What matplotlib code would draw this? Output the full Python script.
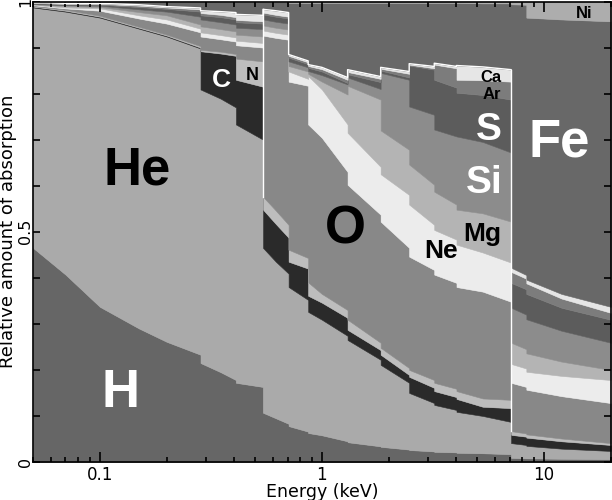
import numpy as np
import matplotlib.pyplot as plt
from matplotlib.ticker import MultipleLocator, LogLocator, NullFormatter

### DATA (cumulative fraction of absorption)
# energies in keV, edges appear twice (value below / above the edge)
energy = [0.05, 0.07, 0.1, 0.15, 0.2, 0.284, 0.284, 0.35, 0.41, 0.41,
          0.543, 0.543, 0.62, 0.708, 0.708, 0.867, 0.867, 1.0, 1.305, 1.305,
          1.839, 1.839, 2.472, 2.472, 3.206, 3.206, 4.038, 4.038, 5.3, 7.112,
          7.112, 8.333, 8.333, 12.0, 20.0]

top_H = [0.465, 0.407, 0.337, 0.29, 0.261, 0.233, 0.215, 0.195, 0.178, 0.172,
         0.163, 0.107, 0.095, 0.083, 0.078, 0.066, 0.063, 0.058, 0.045, 0.043,
         0.034, 0.033, 0.027, 0.026, 0.023, 0.022, 0.021, 0.020, 0.019, 0.017,
         0.009, 0.008, 0.008, 0.007, 0.006]
top_He = [0.987, 0.978, 0.965, 0.941, 0.924, 0.898, 0.809, 0.789, 0.77, 0.733,
          0.70, 0.465, 0.435, 0.409, 0.38, 0.352, 0.326, 0.309, 0.274, 0.265,
          0.222, 0.211, 0.172, 0.15, 0.128, 0.124, 0.113, 0.109, 0.10, 0.087,
          0.041, 0.037, 0.035, 0.029, 0.024]
top_C = [0.989, 0.980, 0.967, 0.943, 0.926, 0.900, 0.892, 0.887, 0.882, 0.83,
         0.815, 0.548, 0.517, 0.487, 0.435, 0.42, 0.361, 0.346, 0.313, 0.287,
         0.243, 0.233, 0.189, 0.185, 0.161, 0.154, 0.141, 0.137, 0.12, 0.117,
         0.059, 0.055, 0.053, 0.045, 0.037]
top_N = [0.990, 0.982, 0.969, 0.945, 0.928, 0.903, 0.895, 0.891, 0.886, 0.876,
         0.87, 0.576, 0.546, 0.515, 0.461, 0.443, 0.39, 0.365, 0.33, 0.309,
         0.259, 0.248, 0.204, 0.20, 0.178, 0.172, 0.159, 0.154, 0.138, 0.135,
         0.067, 0.062, 0.06, 0.051, 0.041]
top_O = [0.992, 0.985, 0.98, 0.963, 0.952, 0.933, 0.924, 0.918, 0.913, 0.905,
         0.90, 0.926, 0.921, 0.917, 0.826, 0.817, 0.733, 0.704, 0.63, 0.602,
         0.537, 0.522, 0.465, 0.446, 0.417, 0.407, 0.389, 0.38, 0.37, 0.348,
         0.172, 0.163, 0.157, 0.143, 0.128]
top_Ne = [0.993, 0.987, 0.985, 0.97, 0.961, 0.941, 0.933, 0.927, 0.922, 0.915,
          0.91, 0.937, 0.932, 0.928, 0.848, 0.832, 0.838, 0.809, 0.733, 0.715,
          0.641, 0.625, 0.58, 0.559, 0.515, 0.504, 0.483, 0.472, 0.455, 0.433,
          0.213, 0.203, 0.196, 0.187, 0.178]
top_Mg = [0.994, 0.99, 0.988, 0.977, 0.97, 0.95, 0.946, 0.94, 0.935, 0.928,
          0.924, 0.948, 0.943, 0.939, 0.86, 0.848, 0.843, 0.826, 0.798, 0.817,
          0.787, 0.72, 0.678, 0.646, 0.602, 0.587, 0.559, 0.548, 0.54, 0.522,
          0.259, 0.245, 0.236, 0.218, 0.20]
top_Si = [0.995, 0.992, 0.991, 0.983, 0.978, 0.967, 0.961, 0.955, 0.95, 0.943,
          0.94, 0.961, 0.956, 0.952, 0.87, 0.857, 0.849, 0.84, 0.82, 0.835,
          0.81, 0.845, 0.83, 0.772, 0.754, 0.722, 0.707, 0.707, 0.695, 0.672,
          0.335, 0.32, 0.31, 0.285, 0.259]
top_S = [0.996, 0.994, 0.993, 0.988, 0.984, 0.978, 0.97, 0.966, 0.961, 0.955,
         0.952, 0.972, 0.967, 0.963, 0.878, 0.864, 0.856, 0.848, 0.823, 0.842,
         0.825, 0.85, 0.835, 0.861, 0.852, 0.83, 0.813, 0.802, 0.797, 0.787,
         0.389, 0.375, 0.365, 0.335, 0.309]
top_Ar = [0.997, 0.995, 0.995, 0.991, 0.987, 0.983, 0.975, 0.971, 0.966, 0.96,
          0.957, 0.976, 0.971, 0.967, 0.882, 0.868, 0.86, 0.853, 0.83, 0.847,
          0.832, 0.854, 0.843, 0.863, 0.855, 0.863, 0.855, 0.83, 0.829, 0.826,
          0.413, 0.398, 0.388, 0.355, 0.324]
top_Ca = [0.998, 0.996, 0.996, 0.993, 0.989, 0.986, 0.98, 0.978, 0.976, 0.972,
          0.97, 0.983, 0.98, 0.976, 0.885, 0.871, 0.863, 0.857, 0.835, 0.852,
          0.837, 0.857, 0.848, 0.865, 0.859, 0.866, 0.859, 0.861, 0.858, 0.852,
          0.422, 0.406, 0.396, 0.365, 0.337]
top_Fe = [0.999, 0.999, 0.999, 0.999, 0.999, 0.999, 0.999, 0.999, 0.999, 0.999,
          0.999, 0.999, 0.999, 0.999, 0.997, 0.997, 0.997, 0.997, 0.997, 0.997,
          0.997, 0.997, 0.997, 0.997, 0.997, 0.997, 0.997, 0.997, 0.996, 0.996,
          0.994, 0.993, 0.965, 0.961, 0.957]
top_Ni = [1.0] * len(energy)

elements = ['H', 'He', 'C', 'N', 'O', 'Ne', 'Mg', 'Si', 'S', 'Ar', 'Ca', 'Fe', 'Ni']
tops = [top_H, top_He, top_C, top_N, top_O, top_Ne, top_Mg, top_Si, top_S,
        top_Ar, top_Ca, top_Fe, top_Ni]
greys = ['#666666', '#aaaaaa', '#2a2a2a', '#bdbdbd', '#888888', '#ececec',
         '#b4b4b4', '#8c8c8c', '#5c5c5c', '#7c7c7c', '#e6e6e6', '#686868', '#adadad']

# element labels: (text, energy, fraction, size, colour)
labels = [('He', 0.147, 0.602, 38, 'black'), ('H', 0.124, 0.12, 38, 'white'),
          ('O', 1.28, 0.474, 38, 'black'), ('Fe', 11.7, 0.663, 38, 'white'),
          ('S', 5.65, 0.70, 28, 'white'), ('Si', 5.37, 0.585, 28, 'white'),
          ('Mg', 5.26, 0.48, 19, 'black'), ('Ne', 3.44, 0.443, 19, 'black'),
          ('C', 0.351, 0.815, 19, 'white'), ('N', 0.484, 0.83, 13, 'black'),
          ('Ca', 5.77, 0.826, 12, 'black'), ('Ar', 5.83, 0.789, 12, 'black'),
          ('Ni', 15.1, 0.965, 12, 'black')]

### PLOT
fig = plt.figure(figsize=(6.12, 5.0), dpi=100)
ax = fig.add_axes([0.054, 0.076, 0.944, 0.921])

E = np.array(energy)
bottom = np.zeros(len(E))
for top, col in zip(tops, greys):
    top = np.array(top)
    ax.fill_between(E, bottom, top, facecolor=col, edgecolor=col, lw=0.4)
    bottom = top

# white outlines seen in the original
ax.plot(E[:30], np.array(top_Ca)[:30], color='white', lw=1.0)
ax.plot([E[11], E[11]], [top_N[11], top_Ca[11]], color='white', lw=1.0)
ax.plot([E[30], E[30]], [top_N[30], top_Ca[29]], color='white', lw=1.0)

for txt, ex, fy, size, col in labels:
    ax.text(ex, fy, txt, fontsize=size, color=col, fontweight='bold',
            family='Liberation Sans', ha='center', va='baseline')

ax.set_xscale('log')
ax.set_xlim(0.05, 20)
ax.set_ylim(0, 1)
ax.set_xticks([0.1, 1, 10])
ax.set_xticklabels(['0.1', '1', '10'])
ax.xaxis.set_minor_locator(LogLocator(subs=np.arange(2, 10)))
ax.xaxis.set_minor_formatter(NullFormatter())
ax.set_yticks([0, 0.5, 1])
ax.set_yticklabels(['0', '0.5', '1'], rotation=90, va='center')
ax.yaxis.set_minor_locator(MultipleLocator(0.1))

ax.tick_params(which='both', direction='in', top=True, right=True,
               width=1.2, labelsize=12)
ax.tick_params(axis='x', which='major', length=7, pad=3)
ax.tick_params(axis='x', which='minor', length=3.6)
ax.tick_params(axis='y', which='both', length=5, pad=0, labelsize=11.5)
for s in ax.spines.values():
    s.set_linewidth(1.2)

ax.set_xlabel('Energy (keV)', fontsize=12.5, labelpad=-1)
ax.set_ylabel('Relative amount of absorption', fontsize=13, labelpad=1)

fig.savefig('out.png', dpi=100)
